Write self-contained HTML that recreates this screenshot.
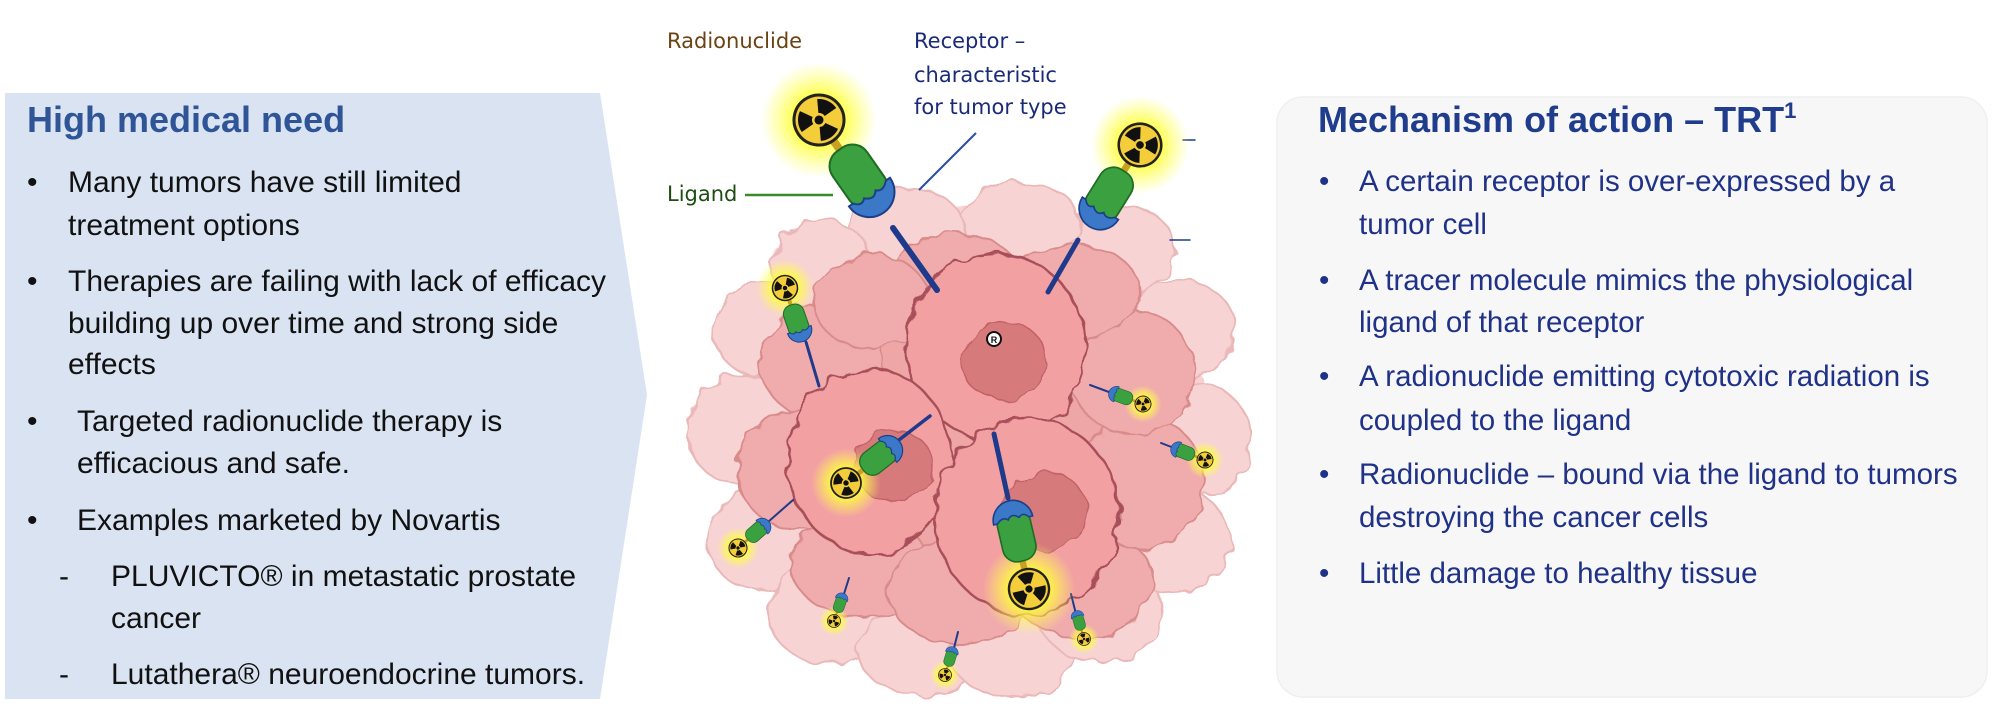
<!DOCTYPE html>
<html><head><meta charset="utf-8"><style>
html,body{margin:0;padding:0;background:#fff;}
svg{display:block}
.t{font-family:"Liberation Sans",sans-serif;font-size:30px;fill:#111;}
.r{font-family:"Liberation Sans",sans-serif;font-size:29.5px;fill:#1f3288;}
.h{font-family:"Liberation Sans",sans-serif;font-size:36px;font-weight:bold;}
.c{font-family:"DejaVu Sans",sans-serif;font-size:21px;}
</style></head><body>
<svg width="2000" height="715" viewBox="0 0 2000 715" xmlns="http://www.w3.org/2000/svg">
<defs>
<filter id="wv" x="-20%" y="-20%" width="140%" height="140%">
<feTurbulence type="fractalNoise" baseFrequency="0.05" numOctaves="2" seed="3"/>
<feDisplacementMap in="SourceGraphic" scale="14"/>
</filter>
<radialGradient id="glow"><stop offset="0.35" stop-color="#ffff30" stop-opacity="1"/><stop offset="1" stop-color="#ffff60" stop-opacity="0"/></radialGradient>
<g id="blade"><path d="M-3.5,-6.06 L-10.5,-18.19 A21,21 0 0 1 10.5,-18.19 L3.5,-6.06 A7,7 0 0 0 -3.5,-6.06Z" fill="#111"/></g>
<g id="conj">
<circle r="58" fill="url(#glow)"/>
<rect x="-4" y="24" width="8" height="16" fill="#c9a020"/>
<circle r="25" fill="#f3cd3a" stroke="#222" stroke-width="3"/>
<use href="#blade" transform="rotate(60)"/><use href="#blade" transform="rotate(180)"/><use href="#blade" transform="rotate(300)"/>
<circle r="4.5" fill="#111"/>
<rect x="-21" y="36" width="42" height="66" rx="18" fill="#3aa040" stroke="#1e6b22" stroke-width="2"/>
<path d="M-25,88 A25,25 0 0 0 25,88 L20,88 Q12,96 6,90 Q0,98 -8,90 Q-14,96 -20,88Z" fill="#3c78c8" stroke="#1c3f8a" stroke-width="2"/>
</g>
</defs>

<polygon points="5,93 600,93 647,395 600,699 5,699" fill="#dae3f2"/>
<text class="h" x="27" y="132" fill="#2f5597">High medical need</text>
<g class="t">
<text x="27" y="192">•</text><text x="68" y="192">Many tumors have still limited</text>
<text x="68" y="235">treatment options</text>
<text x="27" y="291">•</text><text x="68" y="291">Therapies are failing with lack of efficacy</text>
<text x="68" y="333">building up over time and strong side</text>
<text x="68" y="374">effects</text>
<text x="27" y="431">•</text><text x="77" y="431">Targeted  radionuclide therapy is</text>
<text x="77" y="473">efficacious and safe.</text>
<text x="27" y="530">•</text><text x="77" y="530">Examples marketed by Novartis</text>
<text x="59" y="586">-</text><text x="111" y="586">PLUVICTO® in metastatic prostate</text>
<text x="111" y="628">cancer</text>
<text x="59" y="684">-</text><text x="111" y="684">Lutathera® neuroendocrine tumors.</text>
</g>

<rect x="1277" y="97" width="710" height="600" rx="26" fill="#f7f7f7" stroke="#efefef" stroke-width="1.5"/>
<text class="h" x="1318" y="132" fill="#1f3d8c">Mechanism of action – TRT<tspan font-size="22" dy="-14">1</tspan></text>
<g class="r">
<text x="1319" y="191">•</text><text x="1359" y="191">A certain receptor is over-expressed by a</text>
<text x="1359" y="234">tumor cell</text>
<text x="1319" y="290">•</text><text x="1359" y="290">A tracer molecule mimics the physiological</text>
<text x="1359" y="332">ligand of that receptor</text>
<text x="1319" y="386">•</text><text x="1359" y="386">A radionuclide emitting cytotoxic radiation is</text>
<text x="1359" y="430">coupled to the ligand</text>
<text x="1319" y="484">•</text><text x="1359" y="484">Radionuclide – bound via the ligand to tumors</text>
<text x="1359" y="527">destroying the cancer cells</text>
<text x="1319" y="583">•</text><text x="1359" y="583">Little damage to healthy tissue</text>
</g>

<g filter="url(#wv)">
<ellipse cx="972" cy="432" rx="238" ry="228" fill="#f6d2d2"/>
<g fill="#f7d3d3" stroke="#eab8b8" stroke-width="2">
<ellipse cx="765" cy="330" rx="52" ry="47"/><ellipse cx="742" cy="430" rx="55" ry="55"/>
<ellipse cx="762" cy="540" rx="55" ry="50"/><ellipse cx="830" cy="612" rx="62" ry="52"/>
<ellipse cx="920" cy="650" rx="62" ry="45"/><ellipse cx="1012" cy="652" rx="62" ry="45"/>
<ellipse cx="1100" cy="612" rx="62" ry="50"/><ellipse cx="1172" cy="540" rx="58" ry="52"/>
<ellipse cx="1200" cy="440" rx="50" ry="56"/><ellipse cx="1180" cy="330" rx="55" ry="50"/>
<ellipse cx="1120" cy="250" rx="55" ry="45"/><ellipse cx="1020" cy="222" rx="60" ry="40"/>
<ellipse cx="905" cy="232" rx="60" ry="45"/><ellipse cx="822" cy="265" rx="50" ry="45"/>
</g>
<ellipse cx="975" cy="440" rx="185" ry="175" fill="#eea6a6"/>
<g fill="#f0acac" stroke="#d98b8b" stroke-width="2">
<ellipse cx="822" cy="362" rx="62" ry="57"/><ellipse cx="798" cy="470" rx="60" ry="60"/>
<ellipse cx="860" cy="565" rx="68" ry="52"/><ellipse cx="960" cy="592" rx="72" ry="52"/>
<ellipse cx="1080" cy="582" rx="72" ry="56"/><ellipse cx="1142" cy="482" rx="62" ry="66"/>
<ellipse cx="1132" cy="372" rx="62" ry="62"/><ellipse cx="1072" cy="292" rx="68" ry="48"/>
<ellipse cx="955" cy="282" rx="68" ry="48"/><ellipse cx="872" cy="302" rx="58" ry="47"/>
</g>
<g fill="#f2a0a2" stroke="#a9505a" stroke-width="2.5">
<ellipse cx="996" cy="347" rx="90" ry="93"/>
<ellipse cx="870" cy="461" rx="82" ry="92"/>
<ellipse cx="1027" cy="516" rx="92" ry="98"/>
</g>
<g fill="#d77a7c" stroke="#c06266" stroke-width="1.5">
<ellipse cx="1004" cy="361" rx="43" ry="39"/>
<ellipse cx="894" cy="466" rx="40" ry="35"/>
<ellipse cx="1046" cy="511" rx="42" ry="38"/>
</g>
</g>
<circle cx="994" cy="339" r="7" fill="#fff" stroke="#111" stroke-width="2"/>
<text x="994" y="343" font-family="Liberation Sans,sans-serif" font-size="9" font-weight="bold" text-anchor="middle" fill="#111">R</text>

<g stroke="#1f3a8a" stroke-linecap="round">
<line x1="893" y1="228" x2="937" y2="290" stroke-width="6"/>
<line x1="1078" y1="240" x2="1048" y2="292" stroke-width="5"/>
<line x1="806" y1="342" x2="819" y2="386" stroke-width="3"/>
<line x1="895" y1="443" x2="930" y2="416" stroke-width="3.5"/>
<line x1="994" y1="434" x2="1008" y2="498" stroke-width="5"/>
<line x1="1090" y1="385" x2="1117" y2="395" stroke-width="2"/>
<line x1="1161" y1="443" x2="1182" y2="451" stroke-width="2"/>
<line x1="793" y1="500" x2="768" y2="522" stroke-width="2"/>
<line x1="849" y1="578" x2="843" y2="597" stroke-width="2"/>
<line x1="958" y1="632" x2="953" y2="652" stroke-width="2"/>
<line x1="1071" y1="594" x2="1076" y2="614" stroke-width="2"/>
<line x1="1183" y1="140" x2="1195" y2="140" stroke-width="1.5"/>
<line x1="1170" y1="240" x2="1190" y2="240" stroke-width="1.5"/>
</g>

<use href="#conj" transform="translate(819,120) rotate(-35)"/>
<use href="#conj" transform="translate(1140,145) rotate(32) scale(0.85)"/>
<use href="#conj" transform="translate(785,288) rotate(-19) scale(0.5)"/>
<use href="#conj" transform="translate(846,483) rotate(-128) scale(0.6)"/>
<use href="#conj" transform="translate(1029,589) rotate(167) scale(0.8)"/>
<use href="#conj" transform="translate(1143,404) rotate(110) scale(0.32)"/>
<use href="#conj" transform="translate(1205,460) rotate(111) scale(0.32)"/>
<use href="#conj" transform="translate(738,548) rotate(-131) scale(0.36)"/>
<use href="#conj" transform="translate(834,621) rotate(-161) scale(0.26)"/>
<use href="#conj" transform="translate(945,675) rotate(-163) scale(0.26)"/>
<use href="#conj" transform="translate(1084,639) rotate(164) scale(0.26)"/>

<text class="c" x="667" y="48" fill="#6b4212">Radionuclide</text>
<text class="c" x="914" y="48" fill="#1a2a78">Receptor –</text>
<text class="c" x="914" y="82" fill="#1a2a78">characteristic</text>
<text class="c" x="914" y="114" fill="#1a2a78">for tumor type</text>
<line x1="976" y1="133" x2="919" y2="190" stroke="#2a4fa8" stroke-width="2"/>
<text class="c" x="667" y="201" fill="#1d4d12">Ligand</text>
<line x1="745" y1="195" x2="833" y2="195" stroke="#3a8a2a" stroke-width="2.5"/>
</svg>
</body></html>
